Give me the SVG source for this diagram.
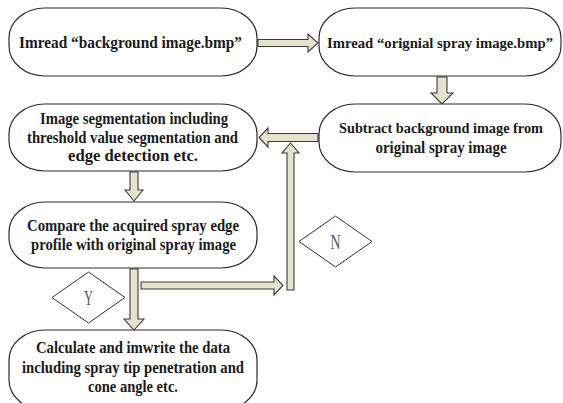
<svg xmlns="http://www.w3.org/2000/svg" width="563" height="403" viewBox="0 0 563 403">
<style>
.box{fill:#fff;stroke:#2b2b2b;stroke-width:1.2}
.t{font-family:"Liberation Serif","Times New Roman",serif;font-weight:bold;font-size:16px;fill:#1a1a1a;text-anchor:middle}
.s{font-size:14.5px}
.arr{fill:#e4e4cc;stroke:#3a3a3a;stroke-width:1.1;stroke-linejoin:miter}
.dia{fill:#fff;stroke:#333;stroke-width:1}
.lbl{font-family:"Liberation Serif","Times New Roman",serif;font-size:20px;fill:#555;text-anchor:middle}
</style>
<rect width="563" height="403" fill="#fff"/>
<g id="connectors">
<polygon class="arr" points="258,39.5 308,39.5 308,34 318,43 308,52 308,46.5 258,46.5"/>
<polygon class="arr" points="437,77 447,77 447,93 453,93 442,104 431,93 437,93"/>
<polygon class="arr" points="318,133.5 268,133.5 268,128 259,137.5 268,147 268,141.5 318,141.5"/>
<polygon class="arr" points="287,290 287,153 282,153 290.5,143 299,153 294,153 294,290"/>
<polygon class="arr" points="130,172 138,172 138,190 143,190 134,201 125,190 130,190"/>
<polygon class="arr" points="130,269 138,269 138,319 144,319 134,330 124,319 130,319"/>
<polygon class="arr" points="141,282 274,282 274,276 283,285.5 274,295 274,289 141,289"/>
</g>
<g id="n1">
<rect class="box" x="9" y="8" width="248" height="68" rx="36" ry="30"/>
<text class="t" x="130.5" y="47.5" textLength="223" lengthAdjust="spacingAndGlyphs">Imread “background image.bmp”</text>
</g>
<g id="n2">
<rect class="box" x="319" y="8" width="242" height="68" rx="36" ry="30"/>
<text class="t s" x="440" y="47.5" textLength="226" lengthAdjust="spacingAndGlyphs">Imread “orignial spray image.bmp”</text>
</g>
<g id="n3">
<rect class="box" x="319" y="104" width="242" height="68" rx="36" ry="30"/>
<text class="t s" x="441" y="132.5" textLength="204" lengthAdjust="spacingAndGlyphs">Subtract background image from</text>
<text class="t" x="441" y="152.5" textLength="131" lengthAdjust="spacingAndGlyphs">original spray image</text>
</g>
<g id="n4">
<rect class="box" x="9" y="104" width="248" height="67" rx="36" ry="30"/>
<text class="t" x="134" y="123.5" textLength="188" lengthAdjust="spacingAndGlyphs">Image segmentation including</text>
<text class="t" x="132.5" y="142.5" textLength="211" lengthAdjust="spacingAndGlyphs">threshold value segmentation and</text>
<text class="t" x="133" y="161" textLength="130" lengthAdjust="spacingAndGlyphs">edge detection etc.</text>
</g>
<g id="n5">
<rect class="box" x="9" y="202" width="248" height="66" rx="36" ry="30"/>
<text class="t" x="133" y="231" textLength="212" lengthAdjust="spacingAndGlyphs">Compare the acquired spray edge</text>
<text class="t" x="133.5" y="249.5" textLength="205" lengthAdjust="spacingAndGlyphs">profile with original spray image</text>
</g>
<g id="n6">
<rect class="box" x="9" y="330" width="248" height="80" rx="36" ry="30"/>
<text class="t" x="133" y="352.5" textLength="194" lengthAdjust="spacingAndGlyphs">Calculate and imwrite the data</text>
<text class="t" x="133" y="372.5" textLength="222" lengthAdjust="spacingAndGlyphs">including spray tip penetration and</text>
<text class="t" x="133" y="392" textLength="90" lengthAdjust="spacingAndGlyphs">cone angle etc.</text>
</g>
<g id="dY">
<polygon class="dia" points="52,297.5 88.5,272 125,297.5 88.5,323"/>
<text class="lbl" x="88.5" y="305" textLength="9" lengthAdjust="spacingAndGlyphs">Y</text>
</g>
<g id="dN">
<polygon class="dia" points="299,241.5 335.5,216 372,241.5 335.5,267"/>
<text class="lbl" x="335.5" y="248.5" textLength="10" lengthAdjust="spacingAndGlyphs">N</text>
</g>
</svg>
